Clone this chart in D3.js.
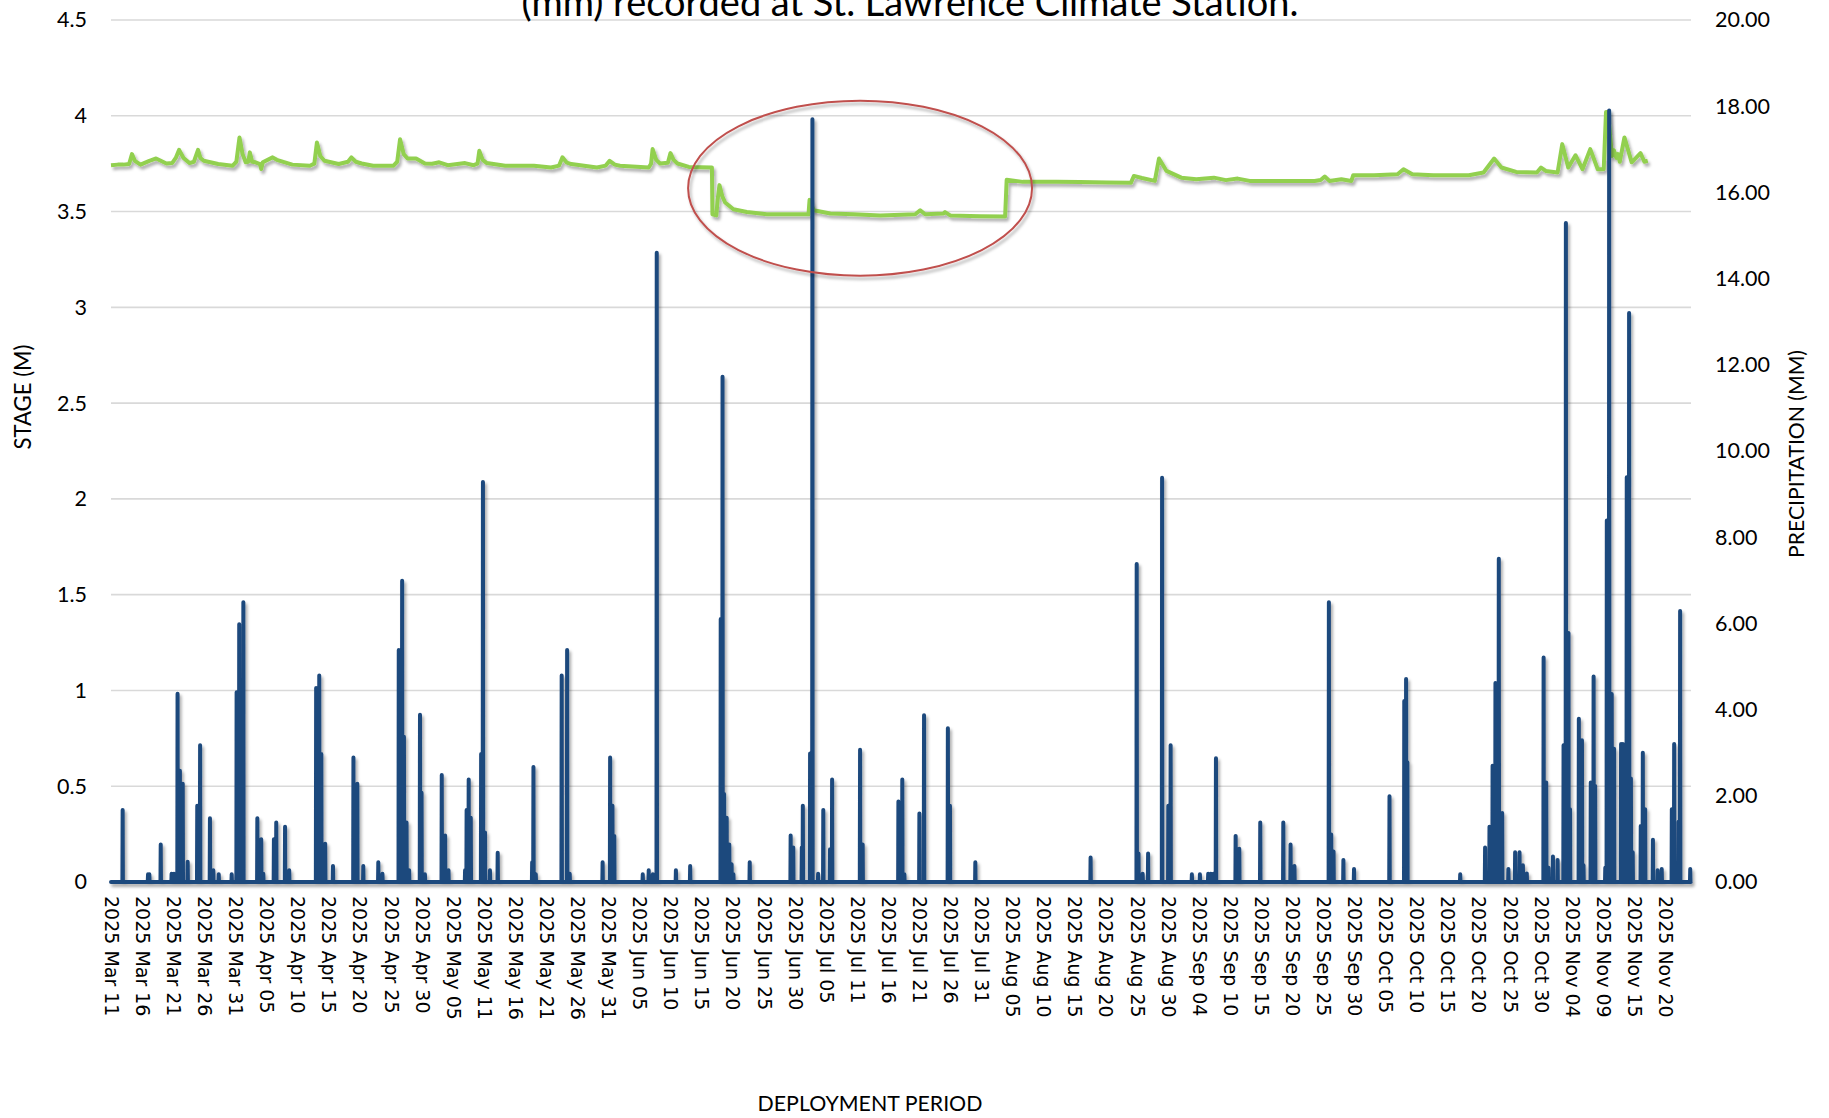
<!DOCTYPE html>
<html>
<head>
<meta charset="utf-8">
<script src="https://cdn.jsdelivr.net/npm/d3@7"></script>
<style>
  html, body { margin: 0; padding: 0; background: #fff; }
  svg { display: block; }
</style>
</head>
<body>
<div id="chart"></div>
<script>
// --- DATA ---
// x values are record numbers along the deployment (one label every 120 records)
const tickLabels = [
  "2025 Mar 11", "2025 Mar 16", "2025 Mar 21", "2025 Mar 26", "2025 Mar 31",
  "2025 Apr 05", "2025 Apr 10", "2025 Apr 15", "2025 Apr 20", "2025 Apr 25", "2025 Apr 30",
  "2025 May 05", "2025 May 11", "2025 May 16", "2025 May 21", "2025 May 26", "2025 May 31",
  "2025 Jun 05", "2025 Jun 10", "2025 Jun 15", "2025 Jun 20", "2025 Jun 25", "2025 Jun 30",
  "2025 Jul 05", "2025 Jul 11", "2025 Jul 16", "2025 Jul 21", "2025 Jul 26", "2025 Jul 31",
  "2025 Aug 05", "2025 Aug 10", "2025 Aug 15", "2025 Aug 20", "2025 Aug 25", "2025 Aug 30",
  "2025 Sep 04", "2025 Sep 10", "2025 Sep 15", "2025 Sep 20", "2025 Sep 25", "2025 Sep 30",
  "2025 Oct 05", "2025 Oct 10", "2025 Oct 15", "2025 Oct 20", "2025 Oct 25", "2025 Oct 30",
  "2025 Nov 04", "2025 Nov 09", "2025 Nov 15", "2025 Nov 20"
];
const recordsPerLabel = 120;
const recordCount = 6100;

const stageTicks = [0, 0.5, 1, 1.5, 2, 2.5, 3, 3.5, 4, 4.5];
const precipTicks = [0, 2, 4, 6, 8, 10, 12, 14, 16, 18, 20];

// stage (m): [record, value]
const stageSeries = [
  [0,3.742],[26,3.745],[48,3.745],[70,3.748],[81,3.800],[92,3.765],[114,3.745],[148,3.765],
  [174,3.777],[200,3.760],[214,3.751],[236,3.753],[250,3.780],[263,3.822],[280,3.780],[303,3.753],
  [320,3.760],[336,3.822],[345,3.780],[358,3.765],[414,3.748],[469,3.739],[484,3.760],[496,3.887],
  [508,3.800],[520,3.757],[530,3.760],[536,3.809],[545,3.760],[558,3.757],[575,3.748],[580,3.722],
  [586,3.757],[624,3.783],[640,3.770],[700,3.745],[768,3.739],[785,3.750],[795,3.861],[808,3.790],
  [824,3.765],[879,3.748],[915,3.760],[928,3.783],[945,3.760],[968,3.751],[1012,3.739],[1090,3.739],
  [1105,3.760],[1116,3.878],[1130,3.800],[1145,3.777],[1178,3.777],[1212,3.751],[1240,3.750],
  [1267,3.757],[1300,3.742],[1367,3.753],[1400,3.742],[1415,3.750],[1422,3.817],[1435,3.770],
  [1451,3.753],[1522,3.739],[1633,3.739],[1699,3.730],[1730,3.740],[1743,3.783],[1760,3.755],
  [1777,3.748],[1876,3.730],[1910,3.740],[1925,3.765],[1945,3.745],[1965,3.739],[2076,3.730],
  [2085,3.750],[2091,3.826],[2105,3.770],[2120,3.751],[2150,3.755],[2160,3.805],[2172,3.770],
  [2187,3.751],[2231,3.733],[2320,3.730],[2322,3.486],[2337,3.480],[2342,3.560],[2349,3.638],
  [2360,3.580],[2371,3.547],[2403,3.512],[2455,3.498],[2532,3.486],[2622,3.486],[2693,3.486],
  [2697,3.561],[2713,3.507],[2777,3.490],[2867,3.486],[2970,3.480],[3105,3.486],[3124,3.507],
  [3143,3.486],[3214,3.490],[3220,3.497],[3240,3.480],[3356,3.476],[3452,3.474],[3458,3.666],
  [3520,3.655],[3650,3.655],[3741,3.654],[3850,3.652],[3938,3.651],[3949,3.686],[3980,3.675],
  [4030,3.660],[4046,3.777],[4075,3.712],[4132,3.677],[4190,3.669],[4258,3.677],[4304,3.664],
  [4350,3.672],[4396,3.660],[4533,3.660],[4647,3.660],[4670,3.665],[4686,3.683],[4704,3.660],
  [4750,3.669],[4789,3.660],[4796,3.690],[4876,3.690],[4967,3.695],[4990,3.721],[5024,3.695],
  [5105,3.690],[5242,3.690],[5299,3.704],[5340,3.777],[5368,3.730],[5425,3.707],[5505,3.704],
  [5521,3.730],[5539,3.712],[5585,3.704],[5603,3.852],[5626,3.730],[5654,3.794],[5681,3.721],
  [5711,3.826],[5740,3.721],[5763,3.721],[5772,4.020],[5779,4.020],[5795,3.790],[5802,3.820],
  [5812,3.780],[5818,3.800],[5825,3.760],[5843,3.887],[5871,3.757],[5905,3.805],[5920,3.760],
  [5933,3.765]
];

// precipitation (mm): [record, value], every other record is 0
const rainEvents = [
  [45,1.67],[143,0.18],[148,0.18],[192,0.87],[234,0.19],[243,0.19],[257,4.37],[266,2.58],[277,2.28],
  [296,0.47],[333,1.77],[344,3.17],[382,1.48],[395,0.27],[416,0.18],[466,0.18],[485,4.40],[495,5.98],
  [511,6.49],[565,1.48],[580,0.99],[588,0.19],[629,0.99],[638,1.38],[672,1.28],[688,0.27],[792,4.50],
  [804,4.79],[812,2.97],[827,0.89],[857,0.37],[936,2.89],[951,2.28],[974,0.37],[1032,0.46],[1048,0.19],
  [1111,5.38],[1124,6.99],[1131,3.37],[1141,1.38],[1151,0.27],[1193,3.88],[1199,2.07],[1212,0.18],
  [1277,2.48],[1290,1.08],[1303,0.27],[1367,0.27],[1373,1.67],[1381,2.38],[1389,1.49],[1429,2.97],
  [1436,9.28],[1444,1.15],[1463,0.27],[1493,0.68],[1626,0.46],[1631,2.67],[1640,0.18],[1740,4.79],
  [1761,5.38],[1771,0.19],[1898,0.46],[1927,2.89],[1936,1.77],[1943,1.07],[2053,0.18],[2076,0.27],
  [2092,0.18],[2107,14.6],[2181,0.27],[2236,0.37],[2354,6.10],[2361,11.72],[2367,2.04],[2377,1.49],
  [2387,0.87],[2396,0.41],[2403,0.18],[2466,0.46],[2624,1.08],[2634,0.80],[2667,0.80],[2671,1.77],
  [2699,2.98],[2708,17.7],[2730,0.19],[2750,1.67],[2776,0.76],[2784,2.38],[2892,3.07],[2902,0.87],
  [3040,1.87],[3055,2.38],[3063,0.18],[3121,1.59],[3139,3.87],[3231,3.57],[3239,1.77],[3337,0.46],
  [3782,0.57],[3960,7.38],[3967,0.66],[3983,0.19],[4004,0.66],[4058,9.38],[4082,1.77],[4091,3.17],
  [4173,0.18],[4204,0.18],[4236,0.19],[4246,0.19],[4256,0.19],[4266,2.87],[4342,1.07],[4356,0.77],
  [4437,1.38],[4526,1.38],[4554,0.87],[4569,0.37],[4702,6.49],[4711,1.10],[4720,0.71],[4758,0.51],
  [4799,0.30],[4936,1.99],[4993,4.20],[5000,4.71],[5005,2.78],[5209,0.18],[5305,0.80],[5322,1.28],
  [5334,2.70],[5345,4.62],[5358,7.50],[5371,1.60],[5395,0.30],[5421,0.69],[5438,0.69],[5451,0.39],
  [5466,0.20],[5531,5.21],[5541,2.31],[5550,0.33],[5567,0.59],[5585,0.51],[5608,3.17],[5617,15.29],
  [5627,5.78],[5633,1.69],[5667,3.79],[5679,3.29],[5685,0.39],[5713,2.31],[5724,4.77],[5730,2.23],
  [5769,0.33],[5775,8.39],[5784,17.9],[5794,4.36],[5803,3.09],[5830,3.20],[5837,3.20],[5852,9.39],
  [5861,13.2],[5868,2.40],[5875,0.69],[5906,1.30],[5914,3.00],[5923,1.69],[5953,0.98],[5971,0.27],
  [5987,0.30],[6026,1.69],[6035,3.20],[6052,1.40],[6058,6.29],[6097,0.30]
];

// highlighted period (red ellipse), in data units
const highlight = { centre: 2892, stage: 3.622, halfRecords: 664, halfStage: 0.457 };

// --- 1. SETUP ---
const width = 1829;
const height = 1118;
const plot = { left: 111, right: 1691, top: 20, bottom: 882 };
const font = "Lato, 'Open Sans', sans-serif";

const svg = d3.select("#chart")
  .append("svg")
  .attr("width", width)
  .attr("height", height)
  .attr("viewBox", `0 0 ${width} ${height}`);

svg.append("rect").attr("width", width).attr("height", height).attr("fill", "#fff");

const defs = svg.append("defs");
const shadow = defs.append("filter")
  .attr("id", "shadow")
  .attr("x", "-20%").attr("y", "-20%")
  .attr("width", "140%").attr("height", "140%");
shadow.append("feDropShadow")
  .attr("dx", 2).attr("dy", 3)
  .attr("stdDeviation", 1.8)
  .attr("flood-color", "#000")
  .attr("flood-opacity", 0.32);

// --- 2. SCALES ---
const x = d3.scaleLinear().domain([0, recordCount]).range([plot.left, plot.right]);
const yStage = d3.scaleLinear().domain([0, 4.5]).range([plot.bottom, plot.top]);
const yPrecip = d3.scaleLinear().domain([0, 20]).range([plot.bottom, plot.top]);

// --- 3. GRID ---
svg.append("g")
  .selectAll("line")
  .data(stageTicks)
  .join("line")
  .attr("x1", plot.left)
  .attr("x2", plot.right)
  .attr("y1", d => yStage(d))
  .attr("y2", d => yStage(d))
  .attr("stroke", "#d9d9d9")
  .attr("stroke-width", 1.6);

// --- 4. AXES ---
const leftAxis = svg.append("g")
  .attr("transform", `translate(${plot.left},0)`)
  .call(d3.axisLeft(yStage).tickValues(stageTicks).tickFormat(d3.format("")).tickSize(0).tickPadding(24));

const rightAxis = svg.append("g")
  .attr("transform", `translate(${plot.right},0)`)
  .call(d3.axisRight(yPrecip).tickValues(precipTicks).tickFormat(d3.format(".2f")).tickSize(0).tickPadding(24));

[leftAxis, rightAxis].forEach(g => {
  g.select(".domain").remove();
  g.selectAll("text")
    .attr("font-family", font)
    .attr("font-size", 21.5)
    .attr("fill", "#000");
});

const bottomAxis = svg.append("g")
  .attr("transform", `translate(0,${plot.bottom})`)
  .call(d3.axisBottom(x)
    .tickValues(tickLabels.map((d, i) => i * recordsPerLabel))
    .tickFormat((d, i) => tickLabels[i])
    .tickSize(0));

bottomAxis.select(".domain").remove();
bottomAxis.selectAll("text")
  .attr("font-family", "'DejaVu Sans', Verdana, sans-serif")
  .attr("font-size", 19)
  .attr("fill", "#000")
  .attr("x", 14)
  .attr("y", 0)
  .attr("dy", "0.35em")
  .attr("transform", "rotate(90)")
  .style("text-anchor", "start");

// --- 5. SERIES ---
const stageLine = d3.line()
  .x(d => x(d[0]))
  .y(d => yStage(d[1]));

svg.append("path")
  .datum(stageSeries)
  .attr("d", stageLine)
  .attr("fill", "none")
  .attr("stroke", "#92d050")
  .attr("stroke-width", 4)
  .attr("stroke-linejoin", "round")
  .attr("filter", "url(#shadow)");

// rain: zero between events, one spike per event
const rainPoints = [[0, 0]];
rainEvents.forEach(([r, v]) => {
  rainPoints.push([r - 1, 0], [r, v], [r + 1, 0]);
});
rainPoints.push([recordCount - 1, 0]);

const rainLine = d3.line()
  .x(d => x(d[0]))
  .y(d => yPrecip(d[1]));

svg.append("path")
  .datum(rainPoints)
  .attr("d", rainLine)
  .attr("fill", "none")
  .attr("stroke", "#1f497d")
  .attr("stroke-width", 4)
  .attr("stroke-linejoin", "round")
  .attr("stroke-linecap", "round")
  .attr("filter", "url(#shadow)");

// --- 6. ANNOTATION ---
svg.append("ellipse")
  .attr("cx", x(highlight.centre))
  .attr("cy", yStage(highlight.stage))
  .attr("rx", x(highlight.centre + highlight.halfRecords) - x(highlight.centre))
  .attr("ry", yStage(highlight.stage - highlight.halfStage) - yStage(highlight.stage))
  .attr("fill", "none")
  .attr("stroke", "#c0504d")
  .attr("stroke-width", 2)
  .attr("filter", "url(#shadow)");

// --- 7. TITLES ---
function fitLength(text, target) {
  const len = text.node().getComputedTextLength();
  const size = parseFloat(text.attr("font-size"));
  text.attr("font-size", size * target / len);
}

// first title line sits above the visible area, as in the source figure
const title = svg.append("text")
  .attr("x", 910)
  .attr("y", 16)
  .attr("text-anchor", "middle")
  .attr("font-family", font)
  .attr("font-size", 32)
  .attr("fill", "#000")
  .text("(mm) recorded at St. Lawrence Climate Station.");
fitLength(title, 777);

const xTitle = svg.append("text")
  .attr("x", 870)
  .attr("y", 1111)
  .attr("text-anchor", "middle")
  .attr("font-family", font)
  .attr("font-size", 22)
  .attr("fill", "#000")
  .text("DEPLOYMENT PERIOD");
fitLength(xTitle, 225);

const yTitle = svg.append("text")
  .attr("transform", "translate(23,397) rotate(-90)")
  .attr("dy", "0.35em")
  .attr("text-anchor", "middle")
  .attr("font-family", font)
  .attr("font-size", 20)
  .attr("fill", "#000")
  .text("STAGE (M)");
fitLength(yTitle, 105);

const y2Title = svg.append("text")
  .attr("transform", "translate(1797,454) rotate(-90)")
  .attr("dy", "0.35em")
  .attr("text-anchor", "middle")
  .attr("font-family", font)
  .attr("font-size", 20)
  .attr("fill", "#000")
  .text("PRECIPITATION (MM)");
fitLength(y2Title, 208);
</script>
</body>
</html>
